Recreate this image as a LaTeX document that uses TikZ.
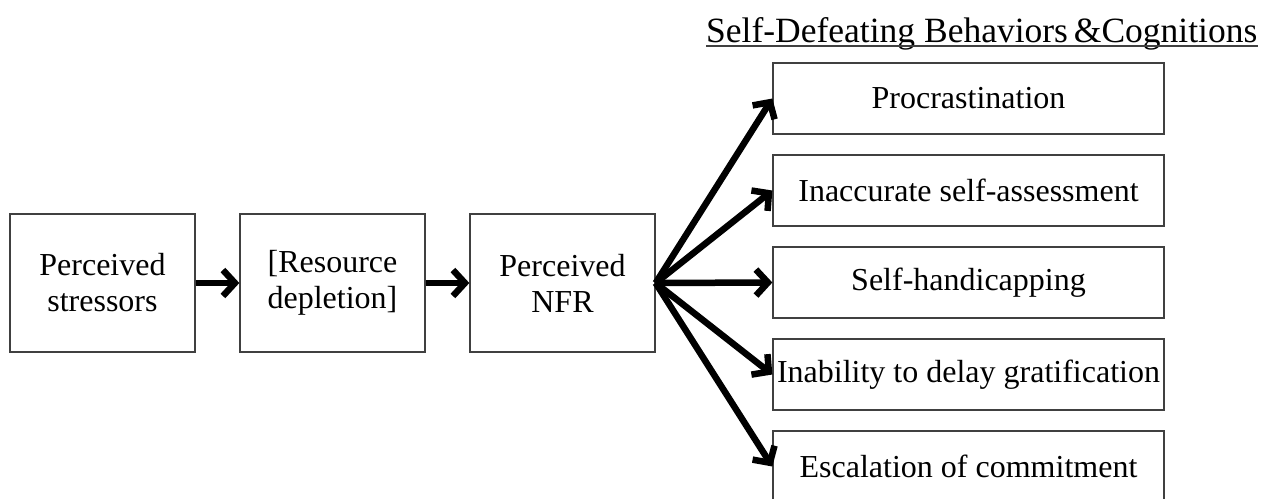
\documentclass[tikz,border=0pt]{standalone}
\usepackage{fontspec}
\setmainfont{Liberation Serif}
\usetikzlibrary{arrows.meta}
\begin{document}
\begin{tikzpicture}[x=1pt,y=-1pt,
  box/.style={draw=black!75,line width=1.3pt,minimum width=185pt,minimum height=138pt,align=center,inner sep=0pt,font=\fontsize{32}{36}\selectfont},
  rbox/.style={draw=black!75,line width=1.3pt,minimum width=391pt,minimum height=71pt,inner sep=0pt,font=\fontsize{32}{36}\selectfont},
  arr/.style={line width=6.5pt,-{Straight Barb[length=12pt,width=26pt]}}]
\useasboundingbox (0,0) rectangle (1271,498);
\clip (0,0) rectangle (1271,498);
% left chain
\node[box] (b1) at (102.5,283) {Perceived\\stressors};
\node[box] (b2) at (332.5,283) {[Resource\\depletion]};
\node[box] (b3) at (562.5,283) {Perceived\\NFR};
% right boxes
\node[rbox] (r1) at (968.5,98.5) {Procrastination};
\node[rbox] (r2) at (968.5,190.5) {Inaccurate self-assessment};
\node[rbox] (r3) at (968.5,282.5) {Self-handicapping};
\node[rbox] (r4) at (968.5,374.5) {Inability to delay gratification};
\node[rbox] (r5) at (968.5,466.5) {Escalation of commitment};
% title
\node[anchor=base west,inner sep=0pt,font=\fontsize{35.5}{40}\selectfont] (title) at (706,42) {Self-Defeating Behaviors\,\&Cognitions};
\draw[line width=1.4pt,black!75] ([yshift=-4pt]title.base west) -- ([yshift=-4pt]title.base east);
% arrows
\draw[arr] (b1.east) -- (b2.west);
\draw[arr] (b2.east) -- (b3.west);
\foreach \t in {r1,r2,r3,r4,r5} {
  \draw[arr] (b3.east) -- (\t.west);
}
\end{tikzpicture}
\end{document}
